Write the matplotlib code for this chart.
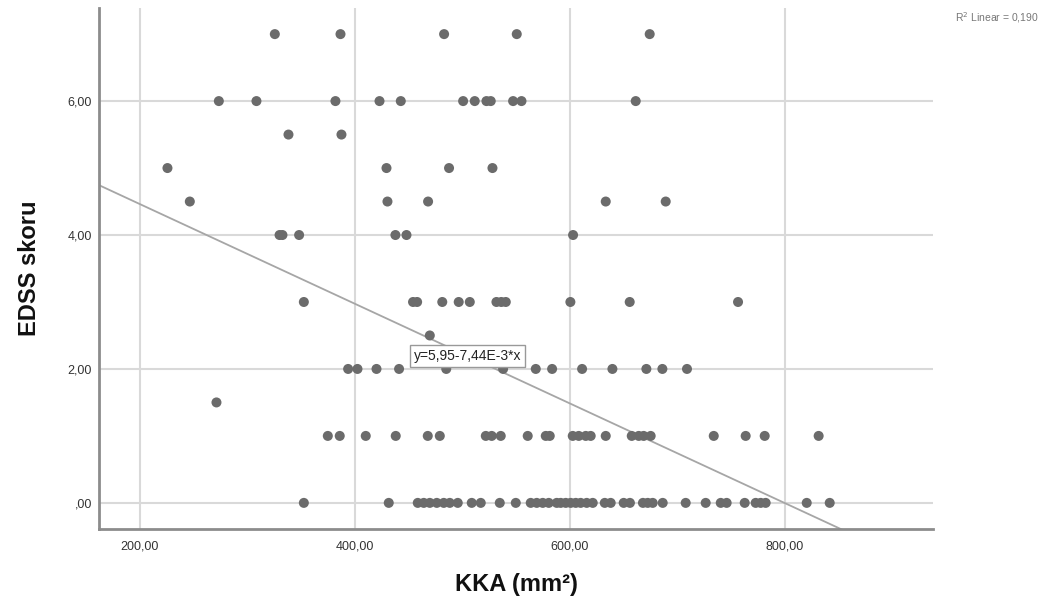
import matplotlib
matplotlib.use("Agg")
import matplotlib.pyplot as plt
import numpy as np

plt.rcParams['font.family'] = ['Liberation Sans Narrow', 'Liberation Sans', 'DejaVu Sans']

# Data (KKA in mm², EDSS score)
kka_0 = [352.6, 431.6, 458.6, 464.2, 469.8, 476.3, 482.8, 488.4, 495.8, 508.8, 517.2,
         534.9, 549.8, 563.7, 569.3, 574.9, 580.5, 587.9, 591.6, 596.3, 600.9, 605.6,
         610.2, 615.8, 621.4, 632.6, 638.1, 650.2, 656.0, 668.1, 672.6, 677.2, 686.5,
         707.9, 726.5, 740.5, 746.0, 762.8, 773.0, 777.7, 782.3, 820.5, 841.9]
kka_1 = [374.9, 386.0, 410.2, 438.1, 467.9, 479.1, 521.9, 527.4, 535.8, 560.9, 577.7,
         581.4, 602.8, 608.4, 614.9, 619.5, 633.5, 657.7, 664.2, 668.8, 675.3, 734.0,
         763.7, 781.4, 831.6]
kka_1_5 = [271.3]
kka_2 = [393.8, 402.5, 420.2, 441.2, 485.1, 538.0, 568.4, 583.6, 611.5, 639.7, 671.3,
         686.2, 709.1]
kka_2_5 = [469.8]
kka_3 = [352.6, 454.2, 458.0, 481.4, 496.7, 507.0, 531.8, 536.3, 540.5, 600.6, 655.8, 756.6]
kka_4 = [330.0, 332.7, 348.2, 437.8, 448.1, 603.1]
kka_4_5 = [246.5, 430.4, 468.2, 633.5, 689.3]
kka_5 = [225.7, 429.5, 487.7, 528.1]
kka_5_5 = [338.3, 387.6]
kka_6 = [273.5, 308.5, 382.0, 423.0, 442.8, 500.8, 511.6, 522.5, 526.5, 547.3, 555.1, 661.4]
kka_7 = [325.6, 386.7, 483.1, 550.7, 674.4]

groups = {0.0: kka_0, 1.0: kka_1, 1.5: kka_1_5, 2.0: kka_2, 2.5: kka_2_5, 3.0: kka_3,
          4.0: kka_4, 4.5: kka_4_5, 5.0: kka_5, 5.5: kka_5_5, 6.0: kka_6, 7.0: kka_7}

x_vals = np.concatenate([np.array(v) for v in groups.values()])
y_vals = np.concatenate([np.full(len(v), k) for k, v in groups.items()])

intercept = 5.95
slope = -7.44e-3

xticks = [200, 400, 600, 800]
xtick_labels = ["200,00", "400,00", "600,00", "800,00"]
yticks = [0, 2, 4, 6]
ytick_labels = [",00", "2,00", "4,00", "6,00"]

fig = plt.figure(figsize=(10.43, 6.10), dpi=100)
ax = fig.add_axes([99/1043, 1-529/610, (933-99)/1043, (529-8)/610])

xmin, xmax = 162, 938
ymin, ymax = -0.39, 7.39
ax.set_xlim(xmin, xmax)
ax.set_ylim(ymin, ymax)

ax.grid(True, color='#d9d9d9', linewidth=1.5, zorder=0)
ax.set_axisbelow(True)

lx = np.array([xmin, xmax])
ax.plot(lx, intercept + slope * lx, color='#a6a6a6', linewidth=1.3, zorder=2)

ax.scatter(x_vals, y_vals, s=52, color='#6b6b6b', edgecolors='none', zorder=3)

ax.set_xticks(xticks)
ax.set_xticklabels(xtick_labels)
ax.set_yticks(yticks)
ax.set_yticklabels(ytick_labels)
ax.tick_params(axis='both', length=0, labelsize=9, colors='#333333', pad=8)
ax.tick_params(axis='y', pad=5)

for s in ['top', 'right']:
    ax.spines[s].set_visible(False)
for s in ['left', 'bottom']:
    ax.spines[s].set_color('#8c8c8c')
    ax.spines[s].set_linewidth(2)

ax.set_xlabel("KKA (mm²)", fontsize=17, fontweight='bold', labelpad=15, color='#111111')
ax.set_ylabel("EDSS skoru", fontsize=17, fontweight='bold', labelpad=19, color='#111111')

ax.text(505, 2.19, "y=5,95-7,44E-3*x", ha='center', va='center', fontsize=10,
        color='#222222', zorder=4,
        bbox=dict(boxstyle='square,pad=0.28', facecolor='white', edgecolor='#999999', linewidth=1))

fig.text(997/1043, 1-18/610, "R$^2$ Linear = 0,190", ha='center', va='center',
         fontsize=7.5, color='#777777')

fig.savefig("out.png", dpi=100)
